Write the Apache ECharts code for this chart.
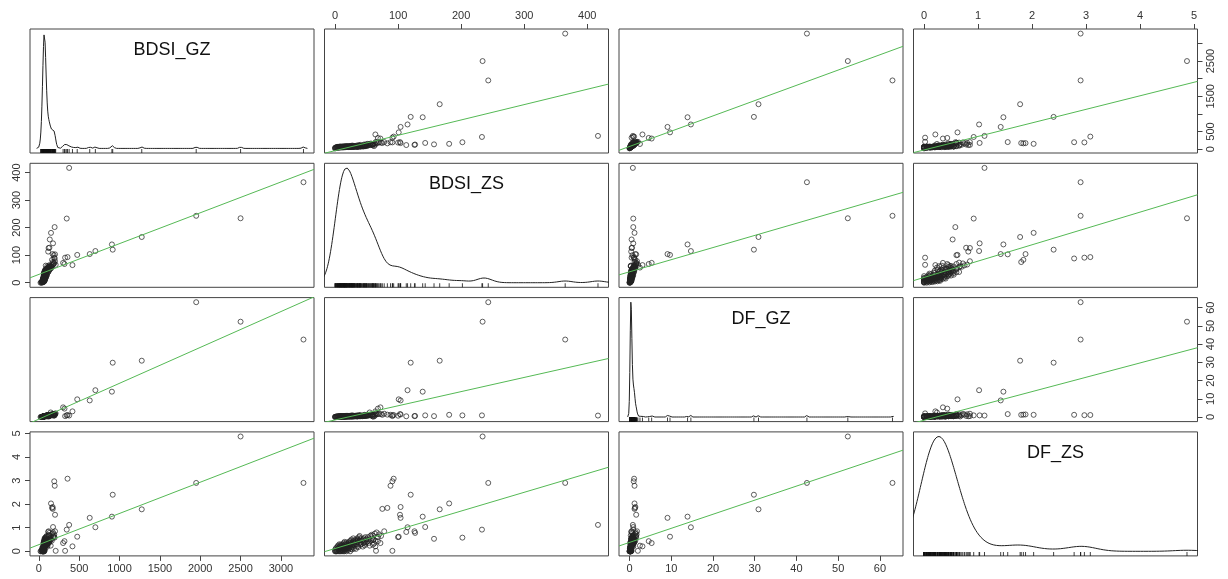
<!DOCTYPE html>
<html><head><meta charset="utf-8">
<script src="https://cdn.jsdelivr.net/npm/echarts@6/dist/echarts.min.js"></script>
<style>html,body{margin:0;padding:0;background:#fff}#c{width:1228px;height:579px}</style>
</head><body><div id="c"></div>
<script>
// ---- data (one observation per index across the four arrays) ----
const varNames = ['BDSI_GZ', 'BDSI_ZS', 'DF_GZ', 'DF_ZS'];

const bdsiGZ = [3280,2500,1950,1275,915,905,700,630,475,416,375,345,355,317,300,325,195,150,135,175,
  130,120,115,185,200,170,172,163,196,190,62,85,104,146,125,208,
  20,35,28,45,40,52,33,58,48,62,38,55,66,50,60,44,58,68,52,63,72,47,60,70,55,65,
  58,50,62,70,54,64,75,48,60,68,56,63,72,52,61,66,78,58,64,70,55,62,82,60,67,74,57,65,88,63,
  70,60,76,64,58,84,66,72,62,68,90,65,74,60,70,95,66,80,62,72,100,68,78,64,74,85,
  68,82,75,64,90,72,70,105,66,80,76,88,112,70,95,74,84,120,78,
  80,92,72,86,125,78,100,130,84,95,110,88,140,
  98,150,105,120,115,160,125,135,145,
  150,165,130,175,180,190,
  185,200];
const bdsiZS = [365,234,243,166,120,139,115,104,101,64,417,233,93,68,72,91,202,181,157,143,
  127,126,113,100,103,104,75,83,88,91,36,62,60,55,60,65,
  0,0,1,1,2,2,3,3,4,4,5,5,5,6,6,7,7,7,8,8,8,9,9,9,10,10,
  10,11,11,11,12,12,12,13,13,13,14,14,14,15,15,15,15,16,16,16,17,17,17,18,18,18,19,19,19,20,
  20,21,21,22,22,22,23,23,24,24,24,25,25,26,26,26,27,27,28,28,28,29,29,30,30,30,
  31,31,32,33,33,34,35,35,36,36,37,38,38,39,39,40,40,40,41,
  42,43,44,45,45,46,47,47,48,48,49,50,50,
  51,52,53,54,56,57,58,59,60,
  61,63,64,66,68,70,
  73,78];
const dfGZ = [42.5,52.3,63.0,30.9,29.8,13.9,14.7,9.1,9.7,3.1,0.8,0.9,1.1,4.6,5.3,0.5,0.9,1.2,0.5,0.9,
  0.6,0.5,0.4,0.7,1.6,1.4,1.2,1.3,1.2,1.0,0.4,0.3,0.3,2.5,0.3,2.0,
  0.0,0.1,0.0,0.2,0.1,0.2,0.1,0.3,0.2,0.3,0.1,0.2,0.4,0.2,0.3,0.1,0.3,0.4,0.2,0.3,0.5,0.2,0.3,0.4,0.2,0.3,
  0.3,0.2,0.3,0.4,0.2,0.3,0.5,0.1,0.3,0.4,0.2,0.3,0.4,0.2,0.3,0.3,0.5,0.2,0.3,0.4,0.2,0.3,0.6,0.3,0.4,0.5,0.2,0.3,0.7,0.3,
  0.4,0.3,0.5,0.3,0.2,0.6,0.4,0.4,0.3,0.4,0.7,0.3,0.5,0.2,0.4,0.8,0.3,0.5,0.3,0.4,0.9,0.4,0.5,0.3,0.4,0.6,
  0.4,0.6,0.5,0.3,0.7,0.4,0.4,0.9,0.3,0.6,0.5,0.6,1.0,0.4,0.7,0.4,0.6,1.1,0.5,
  0.5,0.7,0.4,0.6,1.0,0.5,0.8,1.2,0.6,0.7,0.9,0.6,1.2,
  0.7,1.3,0.8,1.0,0.9,1.4,1.0,1.1,1.2,
  1.2,1.4,1.0,1.5,1.6,1.7,
  1.6,1.8];
const dfZS = [2.90,4.87,2.90,1.78,2.40,1.47,1.02,1.42,0.62,0.21,1.12,0.92,3.08,0.43,0.35,0.02,0.58,2.03,0.53,1.03,
  0.78,0.85,0.82,0.60,1.55,1.88,1.80,1.84,2.78,2.97,0.45,0.33,0.28,0.24,0.67,0.02,
  0,0.05,0,0.1,0,0.15,0.04,0,0.2,0.08,0.12,0,0.25,0.06,0.18,0,0.1,0.3,0.03,0.15,0.22,0,0.12,0.28,0.05,0.2,
  0.08,0.15,0,0.25,0.12,0.05,0.3,0,0.18,0.1,0.22,0.35,0.06,0,0.28,0.15,0.4,0.1,0.2,0.05,0.32,0.12,0.25,0.18,0,0.38,0.08,0.22,0.3,0.14,
  0.2,0.05,0.3,0.12,0.38,0.25,0.15,0.42,0,0.28,0.35,0.1,0.45,0.2,0.5,0.32,0.08,0.25,0.4,0.18,0.36,0.28,0.55,0.12,0.3,0.45,
  0.25,0.38,0.48,0.1,0.42,0.3,0.55,0.2,0.4,0.5,0.18,0.6,0.32,0.45,0.65,0.28,0.5,0.38,0.55,
  0.3,0.45,0.2,0.5,0.35,0.55,0.25,0.4,0.6,0.32,0.48,0.38,0.52,
  0.42,0.6,0.35,0.5,0.65,0.45,0.7,0.55,0.48,
  0.5,0.75,0.45,0.8,0.6,0.72,
  0.65,0.85];

const tickValues = [
  [0,500,1000,1500,2000,2500,3000],
  [0,100,200,300,400],
  [0,10,20,30,40,50,60],
  [0,1,2,3,4,5]
];
const gzRightLabels = [0,500,1500,2500];

// density smoothing (like R's density(adjust=)) per variable
const densityAdjust = [1, 1, 1, 2.5];

// ---- helpers ----
const vars = [bdsiGZ, bdsiZS, dfGZ, dfZS];
function padRange(a){ const mn=Math.min(...a), mx=Math.max(...a), r=mx-mn; return [mn-0.04*r, mx+0.04*r]; }
function quantile(s,p){ const h=(s.length-1)*p, lo=Math.floor(h), hi=Math.ceil(h); return s[lo]+(s[hi]-s[lo])*(h-lo); }
function bwNrd0(a){
  const n=a.length, m=a.reduce((s,v)=>s+v,0)/n;
  const sd=Math.sqrt(a.reduce((s,v)=>s+(v-m)*(v-m),0)/(n-1));
  const s=[...a].sort((x,y)=>x-y);
  const iqr=quantile(s,0.75)-quantile(s,0.25);
  let lo=Math.min(sd, iqr/1.34); if(!lo) lo=sd||1;
  return 0.9*lo*Math.pow(n,-0.2);
}
function kde(a, adjust){
  const bw=bwNrd0(a)*adjust, n=a.length;
  const from=Math.min(...a)-3*bw, to=Math.max(...a)+3*bw, pts=[];
  for(let i=0;i<512;i++){
    const g=from+(to-from)*i/511; let s=0;
    for(const v of a){ const z=(g-v)/bw; s+=Math.exp(-0.5*z*z); }
    pts.push([g, s/(n*bw*Math.sqrt(2*Math.PI))]);
  }
  return pts;
}
function ols(x,y){
  const n=x.length, mx=x.reduce((s,v)=>s+v,0)/n, my=y.reduce((s,v)=>s+v,0)/n;
  let sxy=0,sxx=0; for(let i=0;i<n;i++){ sxy+=(x[i]-mx)*(y[i]-my); sxx+=(x[i]-mx)*(x[i]-mx); }
  const b=sxy/sxx; return [my-b*mx, b];
}

const ranges = vars.map(padRange);
const L=30, T=29, W=284, H=124, GX=10.5, GY=10.3;
const font = "'Liberation Sans', Arial, sans-serif";
const fmt = v => String(v);
const grids=[], xAxes=[], yAxes=[], series=[], graphics=[];

for(let r=0;r<4;r++){
  for(let c=0;c<4;c++){
    const idx=r*4+c, left=L+c*(W+GX), top=T+r*(H+GY);
    grids.push({left, top, width:W, height:H, show:true, borderColor:'#444', borderWidth:1, backgroundColor:'transparent', containLabel:false});
    const showX=(r===0&&(c===1||c===3))||(r===3&&(c===0||c===2));
    const showY=(c===0&&(r===1||r===3))||(c===3&&(r===0||r===2));
    xAxes.push({gridIndex:idx, type:'value', min:ranges[c][0], max:ranges[c][1],
      position: r===0?'top':'bottom',
      axisLine:{show:false, onZero:false}, splitLine:{show:false},
      axisTick:{show:showX, length:5, lineStyle:{color:'#444'}, customValues:tickValues[c]},
      axisLabel:{show:showX, customValues:tickValues[c], formatter:fmt, fontSize:11, color:'#333', margin:8, fontFamily:font}
    });
    let yMin, yMax, dens=null;
    if(r===c){
      dens=kde(vars[c], densityAdjust[c]);
      const ds=dens.map(p=>p[1]), dmn=Math.min(...ds), dmx=Math.max(...ds), rr=dmx-dmn;
      yMin=dmn-0.04*rr; yMax=dmx+0.04*rr;
    } else { yMin=ranges[r][0]; yMax=ranges[r][1]; }
    const yLabels = (r===0) ? gzRightLabels : tickValues[r];
    yAxes.push({gridIndex:idx, type:'value', min:yMin, max:yMax,
      position: c===3?'right':'left',
      axisLine:{show:false, onZero:false}, splitLine:{show:false},
      axisTick:{show:showY, length:5, lineStyle:{color:'#444'}, customValues:tickValues[r]},
      axisLabel:{show:showY, customValues:yLabels, formatter:fmt, rotate:90, fontSize:11, color:'#333', margin:8, fontFamily:font}
    });
    if(r===c){
      series.push({type:'line', xAxisIndex:idx, yAxisIndex:idx, data:dens, symbol:'none', showSymbol:false,
        lineStyle:{color:'#222', width:1}, clip:true, silent:true, animation:false});
      series.push({type:'scatter', xAxisIndex:idx, yAxisIndex:idx, data:vars[c].map(v=>[v,yMin]),
        symbol:'rect', symbolSize:[1,4], symbolOffset:[0,-2], itemStyle:{color:'#111'}, clip:false, silent:true, animation:false});
      graphics.push({type:'text', x:left+W/2, y:top+21, style:{text:varNames[c], fill:'#111', font:'18px '+font, textAlign:'center', textVerticalAlign:'middle'}});
    } else {
      const xs=vars[c], ys=vars[r];
      series.push({type:'scatter', xAxisIndex:idx, yAxisIndex:idx, data:xs.map((v,i)=>[v,ys[i]]),
        symbol:'circle', symbolSize:5, itemStyle:{color:'rgba(0,0,0,0)', borderColor:'#222', borderWidth:0.9},
        silent:true, animation:false});
      const [a,b]=ols(xs,ys), x0=ranges[c][0], x1=ranges[c][1];
      series.push({type:'line', xAxisIndex:idx, yAxisIndex:idx, data:[[x0,a+b*x0],[x1,a+b*x1]], symbol:'none',
        lineStyle:{color:'#55b955', width:1}, clip:true, silent:true, animation:false});
    }
  }
}

const chart = echarts.init(document.getElementById('c'), null, {renderer:'canvas'});
chart.setOption({animation:false, backgroundColor:'#fff', grid:grids, xAxis:xAxes, yAxis:yAxes, series, graphic:graphics});
</script></body></html>
